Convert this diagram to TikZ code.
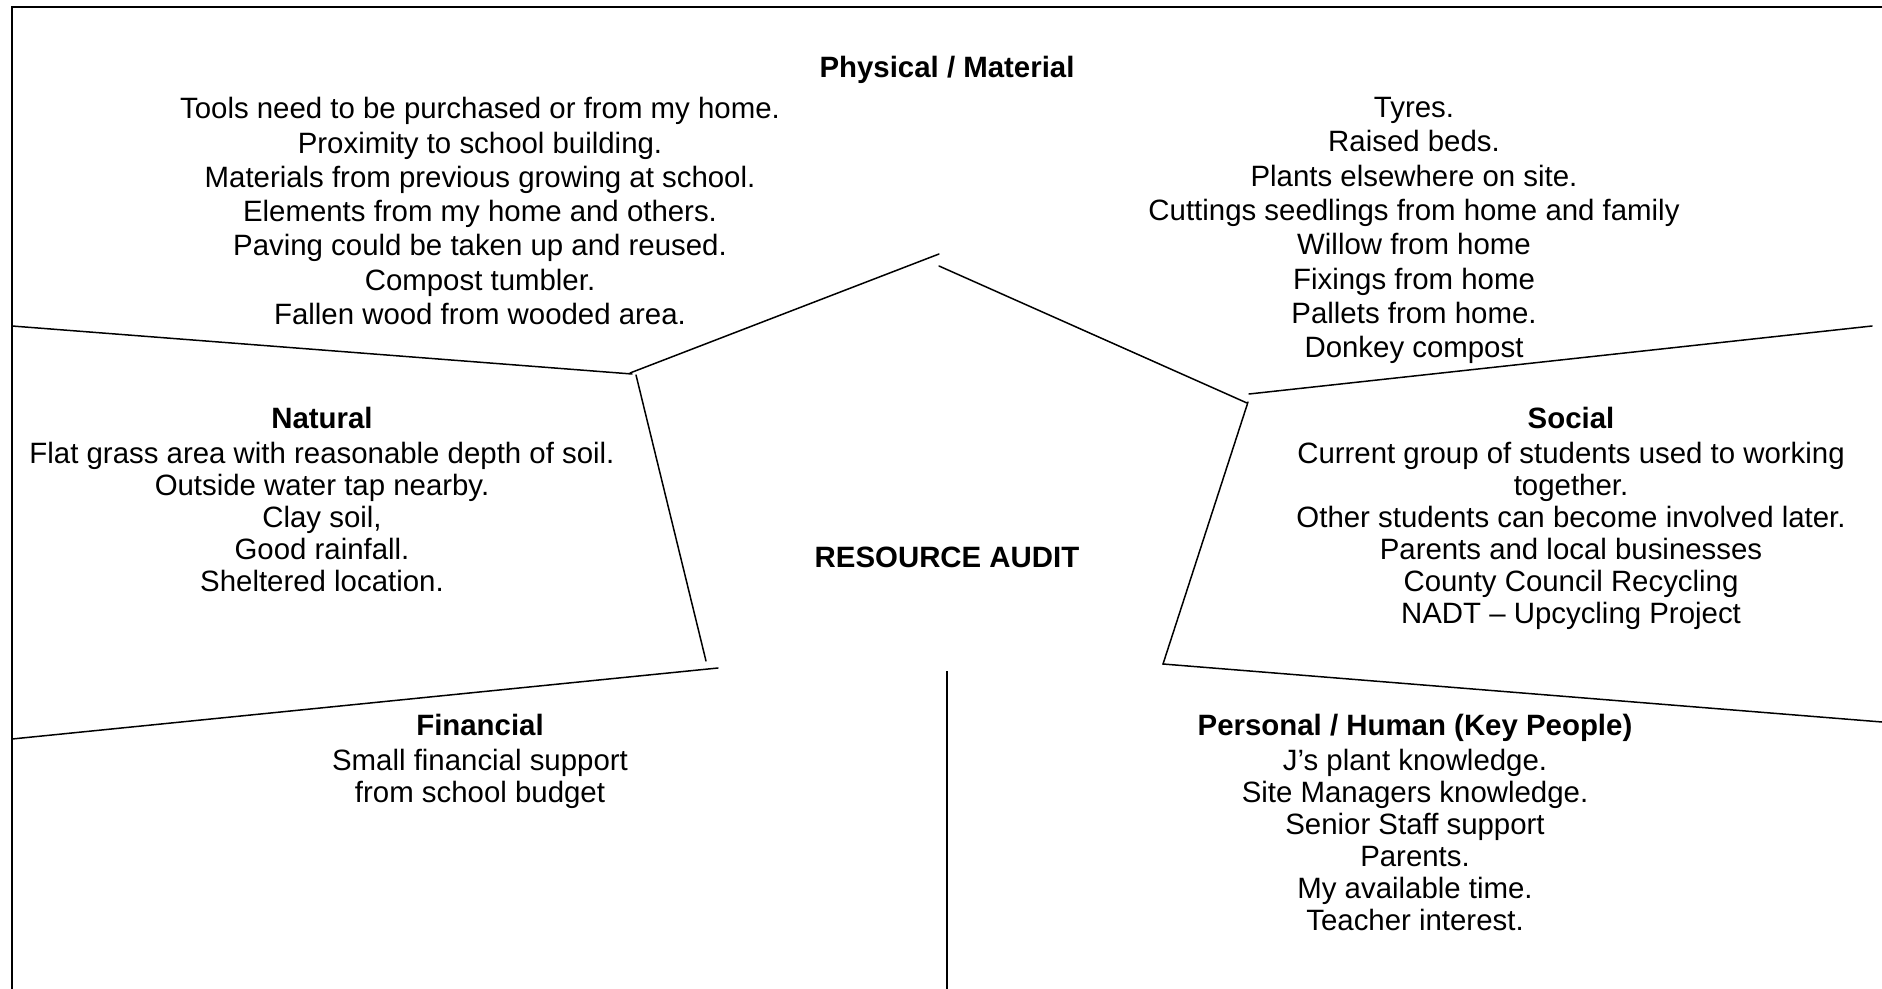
\documentclass[tikz,border=0pt]{standalone}
\usepackage{fontspec}
\setmainfont{Liberation Sans}
\begin{document}
\begin{tikzpicture}[x=0.5pt,y=-0.5pt,
  txt/.style={inner sep=0pt, anchor=north, align=center, font=\fontsize{14.7pt}{16.0pt}\selectfont},
  toptxt/.style={txt, font=\fontsize{14.7pt}{17.15pt}\selectfont},
  rule/.style={line width=0.75pt, line cap=round},
  frame/.style={line width=1pt}]
\useasboundingbox (0,0) rectangle (1882,989);

% frame (left and top edges only)
\coordinate (fbl) at (12,989);
\coordinate (ftl) at (12,7);
\coordinate (ftr) at (1882,7);
\draw[frame] (fbl) -- (ftl) -- (ftr);

% pentagon-like dividers
\coordinate (ntA) at (12,326);   \coordinate (ntB) at (632,374);
\coordinate (plA) at (630,373);  \coordinate (plB) at (939,254);
\coordinate (prA) at (939,266);  \coordinate (prB) at (1247,403);
\coordinate (stA) at (1249,394); \coordinate (stB) at (1872,326);
\coordinate (nrA) at (636,375);  \coordinate (nrB) at (706,661);
\coordinate (ftA) at (12,739);   \coordinate (ftB) at (718,668);
\coordinate (slA) at (1248,402); \coordinate (slB) at (1163,664);
\coordinate (sbB) at (1882,722);
\coordinate (vA) at (947,671);   \coordinate (vB) at (947,989);

\draw[rule] (ntA) -- (ntB);
\draw[rule] (plA) -- (plB);
\draw[rule] (prA) -- (prB);
\draw[rule] (stA) -- (stB);
\draw[rule] (nrA) -- (nrB);
\draw[rule] (ftA) -- (ftB);
\draw[rule] (slA) -- (slB) -- (sbB);
\draw[frame] (vA) -- (vB);

% texts
\node[txt] (phys) at (947,56) {\textbf{Physical / Material}};
\node[toptxt] (physL) at (480,97) {Tools need to be purchased or from my home.\\
Proximity to school building.\\
Materials from previous growing at school.\\
Elements from my home and others.\\
Paving could be taken up and reused.\\
Compost tumbler.\\
Fallen wood from wooded area.};
\node[toptxt] (physR) at (1414,97) {Tyres.\\
Raised beds.\\
Plants elsewhere on site.\\
Cuttings seedlings from home and family\\
Willow from home\\
Fixings from home\\
Pallets from home.\\
Donkey compost};

\node[txt] (natural) at (322,407) {\textbf{Natural}\\[1.4pt]
Flat grass area with reasonable depth of soil.\\
Outside water tap nearby.\\
Clay soil,\\
Good rainfall.\\
Sheltered location.};

\node[txt] (social) at (1571,407) {\textbf{Social}\\[1.4pt]
Current group of students used to working\\
together.\\
Other students can become involved later.\\
Parents and local businesses\\
County Council Recycling\\
NADT – Upcycling Project};

\node[txt] (audit) at (947,547) {\textbf{RESOURCE AUDIT}};

\node[txt] (financial) at (480,714) {\textbf{Financial}\\[1.2pt]
Small financial support\\
from school budget};

\node[txt] (personal) at (1415,714) {\textbf{Personal / Human (Key People)}\\[1.2pt]
J’s plant knowledge.\\
Site Managers knowledge.\\
Senior Staff support\\
Parents.\\
My available time.\\
Teacher interest.};
\end{tikzpicture}
\end{document}
